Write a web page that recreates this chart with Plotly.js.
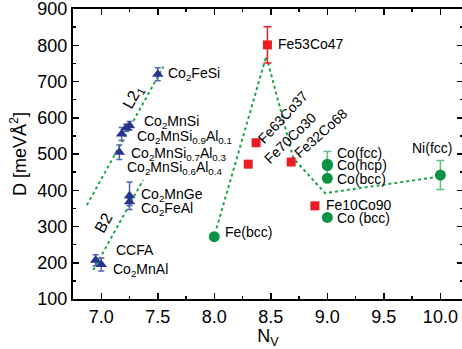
<!DOCTYPE html>
<html><head><meta charset="utf-8">
<script src="https://cdn.plot.ly/plotly-3.0.1.min.js"></script>
<style>html,body{margin:0;padding:0;overflow:hidden;background:#fff}</style>
</head><body><div id="chart" style="width:464px;height:349px"></div>
<script>
// Heusler alloys (blue triangles)
const heuslerNames = ["Co2FeSi","Co2MnSi","Co2MnSi0.9Al0.1","Co2MnSi0.7Al0.3","Co2MnSi0.6Al0.4","Co2MnGe","Co2FeAl","CCFA","Co2MnAl"];
const heuslerNv    = [7.50, 7.25, 7.22, 7.18, 7.16, 7.25, 7.25, 6.95, 7.00];
const heuslerD     = [720, 578, 572, 555, 505, 385, 368, 207, 195];
const heuslerErr   = [18, 12, 10, 18, 20, 38, 10, 15, 18];
// FeCo alloys (red squares)
const fecoNames = ["Fe53Co47","Fe63Co37","Fe70Co30","Fe32Co68","Fe10Co90"];
const fecoNv    = [8.47, 8.37, 8.30, 8.68, 8.89];
const fecoD     = [801, 531, 472, 478, 357];
const fecoErr   = [50, 0, 0, 0, 0];
// Elements (green circles)
const elemNames = ["Fe(bcc)","Co(fcc)","Co(hcp)","Co(bcc)","Co (bcc)","Ni(fcc)"];
const elemNv    = [8.0, 9.0, 9.0, 9.0, 9.0, 10.0];
const elemD     = [272, 472, 468, 433, 325, 442];
const elemErr   = [0, 35, 0, 0, 0, 40];
// Guide lines (green dashed)
const l21LineNv = [6.873, 7.55];
const l21LineD  = [359, 741];
const b2LineNv  = [6.93, 7.37];
const b2LineD   = [180, 428];
const fecoLineNv = [8.02, 8.46, 8.70, 8.98, 10.0];
const fecoLineD  = [295, 770, 488, 392, 438];

const FONT = "Liberation Sans, Arial, sans-serif";
const guide = {color:"#1aa64a", width:2, dash:"3px,3px"};

const traces = [
  {x:l21LineNv, y:l21LineD, mode:"lines", line:guide, hoverinfo:"skip"},
  {x:b2LineNv, y:b2LineD, mode:"lines", line:guide, hoverinfo:"skip"},
  {x:fecoLineNv, y:fecoLineD, mode:"lines", line:guide, hoverinfo:"skip"},
  {x:heuslerNv, y:heuslerD, text:heuslerNames, mode:"markers", type:"scatter",
   marker:{symbol:"triangle-up", size:10, color:"#27348b"},
   error_y:{type:"data", array:heuslerErr, visible:true, color:"#5561b0", thickness:1.5, width:3}},
  {x:fecoNv, y:fecoD, text:fecoNames, mode:"markers", type:"scatter",
   marker:{symbol:"square", size:9, color:"#ed1c24"},
   error_y:{type:"data", array:fecoErr, visible:true, color:"#ed1c24", thickness:1.5, width:4}},
  {x:elemNv, y:elemD, text:elemNames, mode:"markers", type:"scatter",
   marker:{symbol:"circle", size:11, color:"#0b9444"},
   error_y:{type:"data", array:elemErr, visible:true, color:"#5fbf86", thickness:1.5, width:4}}
];

const L = 73, T = 9, W = 390, H = 290;
const PX = px => (px - L) / W;
const PY = py => (T + H - py) / H;
function lab(text, px, py, anchor, angle, size) {
  return {text:text, xref:"paper", yref:"paper", x:PX(px), y:PY(py),
    xanchor:anchor||"left", yanchor:"middle", showarrow:false,
    textangle:angle||0, font:{family:FONT, size:size||14, color:"#000"}};
}
const annotations = [
  lab("Co<sub>2</sub>FeSi",166,74),
  lab("L2<sub>1</sub>",133,97,"center",-61,16),
  lab("Co<sub>2</sub>MnSi",142,122),
  lab("Co<sub>2</sub>MnSi<sub>0.9</sub>Al<sub>0.1</sub>",135,137),
  lab("Co<sub>2</sub>MnSi<sub>0.7</sub>Al<sub>0.3</sub>",129,154),
  lab("Co<sub>2</sub>MnSi<sub>0.6</sub>Al<sub>0.4</sub>",125,168),
  lab("Co<sub>2</sub>MnGe",139,195),
  lab("Co<sub>2</sub>FeAl",139,209),
  lab("B2",104,223,"center",-61,16),
  lab("CCFA",114,250),
  lab("Co<sub>2</sub>MnAl",111,270),
  lab("Fe53Co47",276,44),
  lab("Fe63Co37",283,117,"center",-47),
  lab("Fe70Co30",290,137.5,"center",-44),
  lab("Fe32Co68",321,133,"center",-42),
  lab("Co(fcc)",335,153),
  lab("Co(hcp)",335,165),
  lab("Co(bcc)",335,179),
  lab("Fe10Co90",324,205),
  lab("Co (bcc)",335,218),
  lab("Ni(fcc)",432,148,"center"),
  lab("Fe(bcc)",223,232)
];

const axisCommon = {
  showgrid:false, zeroline:false, showline:true, linewidth:2, linecolor:"#000",
  mirror:"ticks", ticks:"inside", ticklen:6, tickwidth:1.5, tickcolor:"#000",
  ticklabeloverflow:"allow",
  tickfont:{family:FONT, size:18, color:"#000"}
};
const layout = {
  width:464, height:349,
  margin:{l:L, r:1, t:T, b:50},
  paper_bgcolor:"#fff", plot_bgcolor:"#fff",
  showlegend:false,
  xaxis:Object.assign({}, axisCommon, {
    range:[6.75, 10.2], tick0:7, dtick:0.5, tickformat:".1f",
    minor:{dtick:0.25, ticks:"inside", ticklen:3, tickwidth:1.5, tickcolor:"#000"},
    title:{text:"N<sub>V</sub>", font:{family:FONT, size:18, color:"#000"}, standoff:2}
  }),
  yaxis:Object.assign({}, axisCommon, {
    range:[100, 900], tick0:100, dtick:100,
    minor:{dtick:50, ticks:"inside", ticklen:3, tickwidth:1.5, tickcolor:"#000"},
    title:{text:"D [meVÅ<sup>2</sup>]", font:{family:FONT, size:18, color:"#000"}, standoff:6}
  }),
  annotations:annotations
};
Plotly.newPlot("chart", traces, layout, {displayModeBar:false, staticPlot:true});
</script></body></html>
